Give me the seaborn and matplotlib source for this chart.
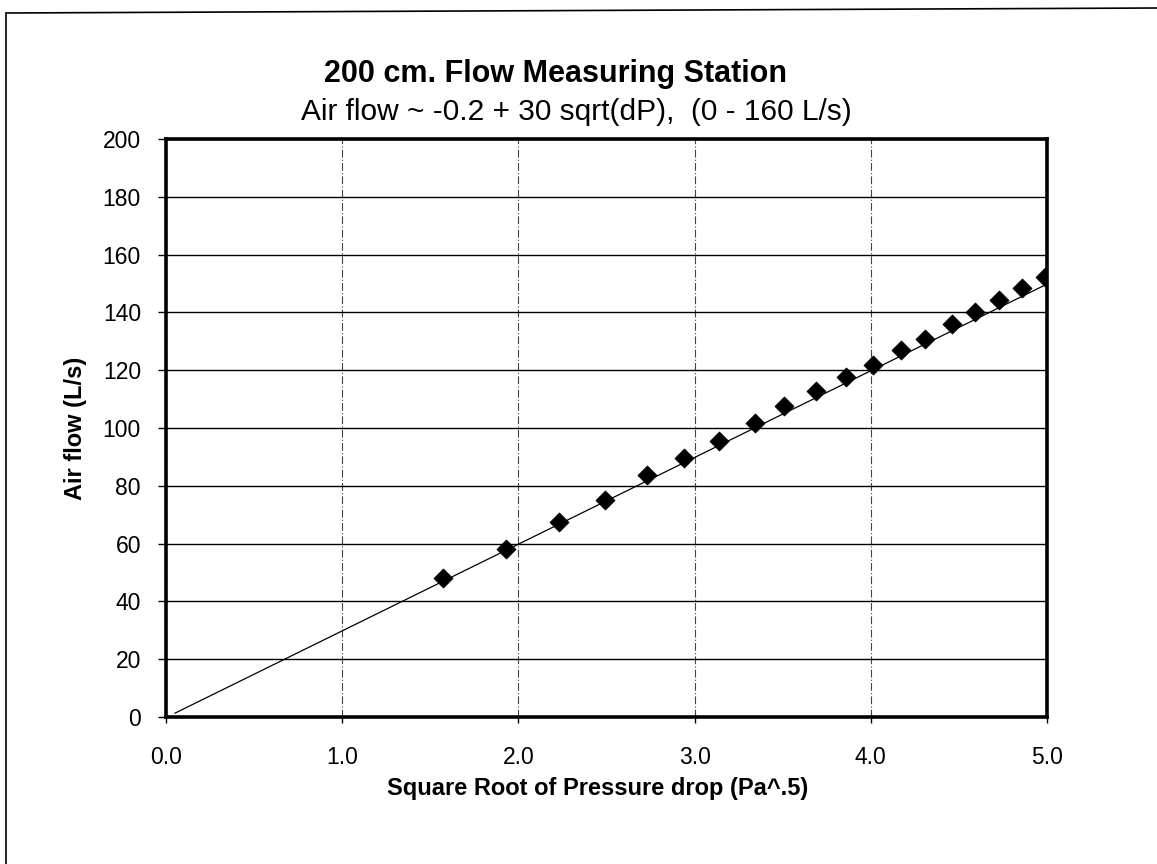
import matplotlib.pyplot as plt
import seaborn as sns
from matplotlib.lines import Line2D

# ── data ─────────────────────────────────────────────────────────────────────
sqrt_dp = [1.57, 1.93, 2.23, 2.49, 2.73, 2.94, 3.14, 3.34, 3.51, 3.69,
           3.86, 4.01, 4.17, 4.31, 4.46, 4.59, 4.73, 4.86, 4.99]
air_flow = [48.2, 58.3, 67.4, 75.2, 83.6, 89.7, 95.5, 101.8, 107.7, 112.8,
            117.8, 121.9, 126.9, 130.9, 136.0, 140.1, 144.3, 148.3, 152.2]

# fitted line  (-0.2 + 30 sqrt(dP)) as drawn on the chart
fit_x = [0.05, 5.0]
fit_y = [1.3, 149.8]

x_ticks = [0, 1, 2, 3, 4, 5]
y_ticks = list(range(0, 201, 20))

title = "200 cm. Flow Measuring Station"
subtitle = "Air flow ~ -0.2 + 30 sqrt(dP),  (0 - 160 L/s)"

# ── style ────────────────────────────────────────────────────────────────────
sns.set_style("white")
plt.rcParams['font.family'] = ['Liberation Sans', 'DejaVu Sans']
plt.rcParams['text.color'] = 'black'
plt.rcParams['axes.labelcolor'] = 'black'

fig = plt.figure(figsize=(11.57, 8.64), dpi=100)
W, H = 1157, 864
ax = fig.add_axes([166 / W, 1 - 717 / H, (1047 - 166) / W, (717 - 139) / H])

# ── plot ─────────────────────────────────────────────────────────────────────
sns.lineplot(x=fit_x, y=fit_y, color='black', linewidth=0.9, ax=ax)
sns.scatterplot(x=sqrt_dp, y=air_flow, marker='D', s=95, color='black',
                edgecolor='black', linewidth=0.5, zorder=4, ax=ax)

ax.set_xlim(0, 5)
ax.set_ylim(0, 200)
ax.set_xticks(x_ticks)
ax.set_xticklabels([f"{t:.1f}" for t in x_ticks])
ax.set_yticks(y_ticks)

ax.yaxis.grid(True, color='black', linewidth=1.0, linestyle='-')
ax.xaxis.grid(True, color='#444444', linewidth=0.8, linestyle=(0, (7, 2, 1, 2)))
ax.set_axisbelow(True)

for s in ax.spines.values():
    s.set_visible(True)
    s.set_color('black')
    s.set_linewidth(2.6)

ax.tick_params(axis='y', direction='out', length=6, width=1, pad=12,
               labelsize=16.5, colors='black', left=True)
ax.tick_params(axis='x', direction='out', length=4, width=1, pad=17,
               labelsize=16.5, colors='black', bottom=True)

ax.set_xlabel("Square Root of Pressure drop (Pa^.5)", fontsize=17,
              fontweight='bold')
ax.set_ylabel("Air flow (L/s)", fontsize=17, fontweight='bold')
ax.xaxis.set_label_coords(0.49, -0.104)
ax.yaxis.set_label_coords(-0.09, 0.50)

# titles
fig.text(556 / W, 1 - 82 / H, title, ha='center', va='baseline',
         fontsize=22, fontweight='bold')
fig.text(576 / W, 1 - 120 / H, subtitle, ha='center', va='baseline',
         fontsize=21.5)

# outer frame of the scanned page (only left and top edges are in view)
fig.add_artist(Line2D([6 / W, 6 / W], [0, 1 - 13 / H], color='black',
                      linewidth=1.2, transform=fig.transFigure))
fig.add_artist(Line2D([6 / W, 1], [1 - 13 / H, 1 - 8 / H], color='black',
                      linewidth=1.2, transform=fig.transFigure))

fig.savefig("out.png", dpi=100, facecolor='white')
